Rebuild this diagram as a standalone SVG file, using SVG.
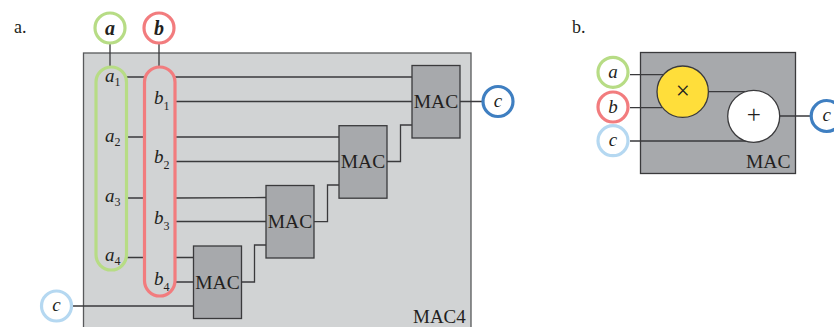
<svg xmlns="http://www.w3.org/2000/svg" width="834" height="327" viewBox="0 0 834 327">
<style>
text{font-family:"Liberation Serif","Times New Roman",serif;fill:#231f20}
.lbl{font-size:18px}
.mac{font-size:19.5px;text-anchor:middle}
.i{font-style:italic;font-size:19px;text-anchor:middle}
.sub{font-style:italic;font-size:19px}
.s{font-size:12px;font-style:normal}
.bi{font-style:italic;font-weight:bold;font-size:20px;text-anchor:middle}
.op{font-size:25px;text-anchor:middle}
.box{fill:#a7a9ac;stroke:#3a3a3c;stroke-width:1.3}
.n{fill:#fff;stroke-width:3.2}
.w{fill:none;stroke:#3a3a3c;stroke-width:1.3}
.pill{fill:none;stroke-width:3.2}
.g{stroke:#b7dc85}.r{stroke:#f27c7e}.lb{stroke:#b5d8f1}.db{stroke:#3f7fc1}
</style>
<text class="lbl" x="14" y="33">a.</text>
<text class="lbl" x="572" y="33">b.</text>

<g id="mac4"><rect x="83.5" y="53" width="387.5" height="290" fill="#d1d3d4" stroke="#58595b" stroke-width="1.3"/>
<text x="413" y="323" style="font-size:19px">MAC4</text></g>

<g id="connectors" class="w">
<path d="M110 43V67M159 43V67"/>
<path d="M127 77H144M127 137H144M127 198H144M127 257.5H144"/>
<path d="M175 77H412M175 101.500H412M175 137H339M175 161.500H339M175 198L266 197.500M175 221.500H266M175 257.500H193.500M175 282H193.500M73 306H193.500"/>
<path d="M241.500 282H254.500V245H266M314 221.700H327.500V185H339M387 161.500H400.500V125H412M460 101.500H482"/>
</g>

<g id="a"><circle class="n g" cx="110" cy="28" r="15"/><text class="bi" x="110" y="35">a</text></g>
<g id="b"><circle class="n r" cx="159" cy="28" r="15"/><text class="bi" x="159" y="35">b</text></g>

<g id="a-pill"><rect class="pill g" x="96" y="67" width="30.500" height="203" rx="15.250"/>
<text class="sub" x="105" y="82">a<tspan class="s" dy="3.500">1</tspan></text>
<text class="sub" x="105" y="142">a<tspan class="s" dy="3.500">2</tspan></text>
<text class="sub" x="105" y="202">a<tspan class="s" dy="3.500">3</tspan></text>
<text class="sub" x="105" y="261">a<tspan class="s" dy="3.500">4</tspan></text></g>

<g id="b-pill"><rect class="pill r" x="144.500" y="67" width="30.500" height="229" rx="15.250"/>
<text class="sub" x="154" y="104">b<tspan class="s" dy="6">1</tspan></text>
<text class="sub" x="154" y="163">b<tspan class="s" dy="6">2</tspan></text>
<text class="sub" x="154" y="224">b<tspan class="s" dy="6">3</tspan></text>
<text class="sub" x="154" y="285">b<tspan class="s" dy="6">4</tspan></text></g>

<g id="mac-1"><rect class="box" x="193.500" y="246" width="48" height="72.500"/><text class="mac" x="217.500" y="289">MAC</text></g>
<g id="mac-2"><rect class="box" x="266" y="185.500" width="48" height="72.500"/><text class="mac" x="290" y="228">MAC</text></g>
<g id="mac-3"><rect class="box" x="339" y="125.700" width="48" height="72.500"/><text class="mac" x="363" y="168">MAC</text></g>
<g id="mac-4"><rect class="box" x="412" y="65.500" width="48" height="72.500"/><text class="mac" x="436" y="108">MAC</text></g>

<g id="c-in"><circle class="n lb" cx="56.500" cy="306" r="15"/><text class="i" x="56.500" y="311">c</text></g>
<g id="c-out"><circle class="n db" cx="498" cy="101.500" r="15"/><text class="i" x="498" y="106.500">c</text></g>

<g id="mac-detail"><rect class="box" x="640.500" y="52.500" width="155" height="121"/>
<text x="746" y="168" style="font-size:19.5px">MAC</text></g>
<path class="w" d="M630 74.700H665M630 107.700H662M708 91.700H745M630 141H750M780 116H811"/>
<g id="mul"><circle cx="682.700" cy="91.700" r="25.700" fill="#ffde3a" stroke="#3a3a3c" stroke-width="1.300"/><text class="op" x="682.700" y="98.500">×</text></g>
<g id="add"><circle cx="753.700" cy="116.300" r="26" fill="#fff" stroke="#3a3a3c" stroke-width="1.300"/><text class="op" x="753.700" y="123">+</text></g>
<g id="a2"><circle class="n g" cx="613" cy="72.300" r="15"/><text class="i" x="613" y="77.500">a</text></g>
<g id="b2"><circle class="n r" cx="613" cy="107" r="15"/><text class="i" x="613" y="113">b</text></g>
<g id="c2"><circle class="n lb" cx="613" cy="140.700" r="15"/><text class="i" x="613" y="146">c</text></g>
<g id="c3"><circle class="n db" cx="826.700" cy="116" r="15.500"/><text class="i" x="826.700" y="121">c</text></g>
</svg>
